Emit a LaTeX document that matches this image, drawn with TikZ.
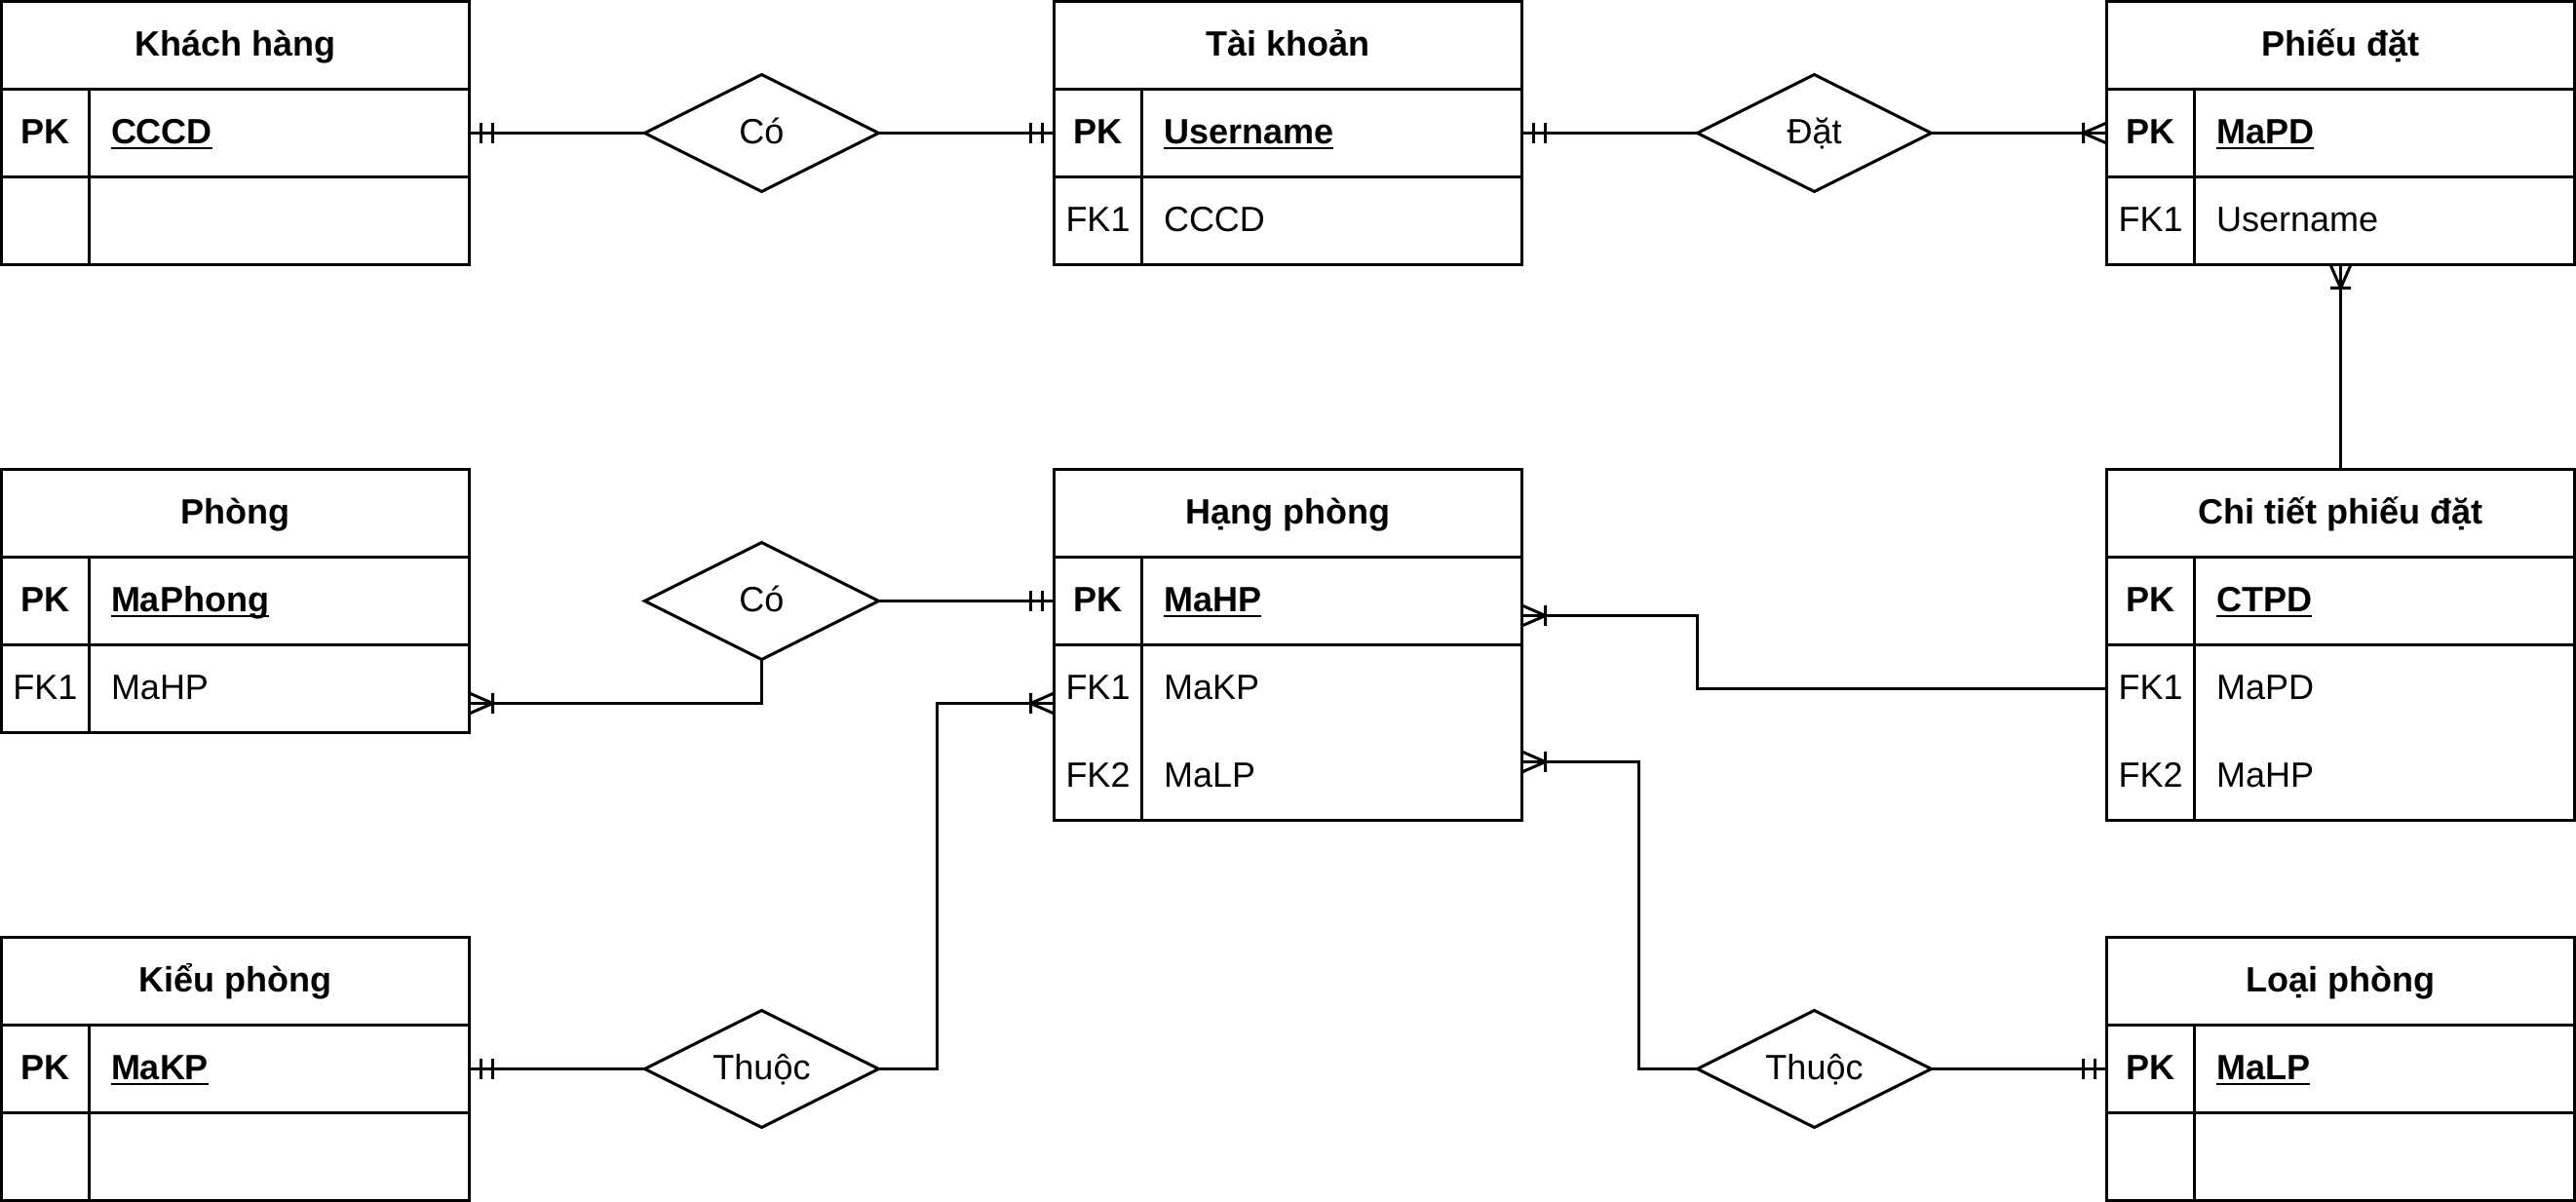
\documentclass[tikz,border=0pt]{standalone}
\usepackage{fontspec}
\setmainfont{Liberation Sans}
\usetikzlibrary{shapes.geometric}
\newcommand\keyul[1]{\setbox0\hbox{#1}\rlap{\rule[-1.9pt]{\wd0}{0.7pt}}\box0}
\begin{document}
\begin{tikzpicture}[x=1pt,y=-1pt,
  every node/.style={font=\fontsize{12}{14.4}\selectfont, inner sep=0pt, outer sep=0pt},
  ln/.style={line width=1pt, line cap=rect},
  conn/.style={line width=1pt},
  ttl/.style={draw, line width=1pt, minimum width=160pt, minimum height=30pt, anchor=north west,
              text height=7.4pt, text depth=0pt, font=\fontsize{12}{14.4}\selectfont\bfseries},
  row/.style={draw, line width=1pt, minimum width=160pt, minimum height=30pt, anchor=north west},
  rowtwo/.style={draw, line width=1pt, minimum width=160pt, minimum height=60pt, anchor=north west},
  keyt/.style={text height=7.4pt, text depth=0pt, anchor=center},
  keyb/.style={keyt, font=\fontsize{12}{14.4}\selectfont\bfseries},
  fldt/.style={text height=7.4pt, text depth=0pt, anchor=west},
  fldb/.style={fldt, font=\fontsize{12}{14.4}\selectfont\bfseries},
  rel/.style={draw, diamond, shape aspect=2, line width=1pt, minimum width=80pt, minimum height=40pt,
              text height=7.4pt, text depth=0pt},
  mandone/.pic={\draw[line width=1pt] (4,-3.5)--(4,3.5) (8,-3.5)--(8,3.5);},
  onemany/.pic={\draw[line width=1pt] (0,-3.5)--(8,0)--(0,3.5) (8,-3.5)--(8,3.5);}
]
\path[use as bounding box] (0,0) rectangle (881,411);

% ---------- Khach hang ----------
\node[ttl] (kh) at (0.5,0.5) {Khách hàng};
\node[row] (khpk) at (0.5,30.5) {};
\node[row] (khfk) at (0.5,60.5) {};
\draw[ln] ([xshift=30pt]khpk.north west) -- ([xshift=30pt]khfk.south west);
\node[keyb] (khpkl) at ([xshift=15pt]khpk.west) {PK};
\node[fldb] (khpkt) at ([xshift=37.5pt]khpk.west) {\keyul{CCCD}};

% ---------- Tai khoan ----------
\node[ttl] (tk) at (360.5,0.5) {Tài khoản};
\node[row] (tkpk) at (360.5,30.5) {};
\node[row] (tkfk) at (360.5,60.5) {};
\draw[ln] ([xshift=30pt]tkpk.north west) -- ([xshift=30pt]tkfk.south west);
\node[keyb] (tkpkl) at ([xshift=15pt]tkpk.west) {PK};
\node[fldb] (tkpkt) at ([xshift=37.5pt]tkpk.west) {\keyul{Username}};
\node[keyt] (tkfkl) at ([xshift=15pt]tkfk.west) {FK1};
\node[fldt] (tkfkt) at ([xshift=37.5pt]tkfk.west) {CCCD};

% ---------- Phieu dat ----------
\node[ttl] (pd) at (720.5,0.5) {Phiếu đặt};
\node[row] (pdpk) at (720.5,30.5) {};
\node[row] (pdfk) at (720.5,60.5) {};
\draw[ln] ([xshift=30pt]pdpk.north west) -- ([xshift=30pt]pdfk.south west);
\node[keyb] (pdpkl) at ([xshift=15pt]pdpk.west) {PK};
\node[fldb] (pdpkt) at ([xshift=37.5pt]pdpk.west) {\keyul{MaPD}};
\node[keyt] (pdfkl) at ([xshift=15pt]pdfk.west) {FK1};
\node[fldt] (pdfkt) at ([xshift=37.5pt]pdfk.west) {Username};

% ---------- Phong ----------
\node[ttl] (ph) at (0.5,160.5) {Phòng};
\node[row] (phpk) at (0.5,190.5) {};
\node[row] (phfk) at (0.5,220.5) {};
\draw[ln] ([xshift=30pt]phpk.north west) -- ([xshift=30pt]phfk.south west);
\node[keyb] (phpkl) at ([xshift=15pt]phpk.west) {PK};
\node[fldb] (phpkt) at ([xshift=37.5pt]phpk.west) {\keyul{MaPhong}};
\node[keyt] (phfkl) at ([xshift=15pt]phfk.west) {FK1};
\node[fldt] (phfkt) at ([xshift=37.5pt]phfk.west) {MaHP};

% ---------- Hang phong ----------
\node[ttl] (hp) at (360.5,160.5) {Hạng phòng};
\node[row] (hppk) at (360.5,190.5) {};
\node[rowtwo] (hpfk) at (360.5,220.5) {};
\draw[ln] ([xshift=30pt]hppk.north west) -- ([xshift=30pt]hpfk.south west);
\node[keyb] (hppkl) at ([xshift=15pt]hppk.west) {PK};
\node[fldb] (hppkt) at ([xshift=37.5pt]hppk.west) {\keyul{MaHP}};
\node[keyt] (hpf1l) at ([xshift=15pt,yshift=15pt]hpfk.west) {FK1};
\node[fldt] (hpf1t) at ([xshift=37.5pt,yshift=15pt]hpfk.west) {MaKP};
\node[keyt] (hpf2l) at ([xshift=15pt,yshift=-15pt]hpfk.west) {FK2};
\node[fldt] (hpf2t) at ([xshift=37.5pt,yshift=-15pt]hpfk.west) {MaLP};

% ---------- Chi tiet phieu dat ----------
\node[ttl] (ct) at (720.5,160.5) {Chi tiết phiếu đặt};
\node[row] (ctpk) at (720.5,190.5) {};
\node[rowtwo] (ctfk) at (720.5,220.5) {};
\draw[ln] ([xshift=30pt]ctpk.north west) -- ([xshift=30pt]ctfk.south west);
\node[keyb] (ctpkl) at ([xshift=15pt]ctpk.west) {PK};
\node[fldb] (ctpkt) at ([xshift=37.5pt]ctpk.west) {\keyul{CTPD}};
\node[keyt] (ctf1l) at ([xshift=15pt,yshift=15pt]ctfk.west) {FK1};
\node[fldt] (ctf1t) at ([xshift=37.5pt,yshift=15pt]ctfk.west) {MaPD};
\node[keyt] (ctf2l) at ([xshift=15pt,yshift=-15pt]ctfk.west) {FK2};
\node[fldt] (ctf2t) at ([xshift=37.5pt,yshift=-15pt]ctfk.west) {MaHP};

% ---------- Kieu phong ----------
\node[ttl] (kp) at (0.5,320.5) {Kiểu phòng};
\node[row] (kppk) at (0.5,350.5) {};
\node[row] (kpfk) at (0.5,380.5) {};
\draw[ln] ([xshift=30pt]kppk.north west) -- ([xshift=30pt]kpfk.south west);
\node[keyb] (kppkl) at ([xshift=15pt]kppk.west) {PK};
\node[fldb] (kppkt) at ([xshift=37.5pt]kppk.west) {\keyul{MaKP}};

% ---------- Loai phong ----------
\node[ttl] (lp) at (720.5,320.5) {Loại phòng};
\node[row] (lppk) at (720.5,350.5) {};
\node[row] (lpfk) at (720.5,380.5) {};
\draw[ln] ([xshift=30pt]lppk.north west) -- ([xshift=30pt]lpfk.south west);
\node[keyb] (lppkl) at ([xshift=15pt]lppk.west) {PK};
\node[fldb] (lppkt) at ([xshift=37.5pt]lppk.west) {\keyul{MaLP}};

% ---------- Relationships ----------
\node[rel] (co1) at (260.5,45.5) {Có};
\node[rel] (dat) at (620.5,45.5) {Đặt};
\node[rel] (co2) at (260.5,205.5) {Có};
\node[rel] (th1) at (260.5,365.5) {Thuộc};
\node[rel] (th2) at (620.5,365.5) {Thuộc};

% ---------- Elbow coordinates ----------
\coordinate (e1) at (580.5,210.5);
\coordinate (e2) at (260.5,240.5);
\coordinate (e3) at (320.5,240.5);
\coordinate (e4) at (560.5,260.5);

% ---------- Connectors ----------
\draw[conn] (khpk.east) -- (co1.west);
\draw[conn] (co1.east) -- (tkpk.west);
\draw[conn] (tkpk.east) -- (dat.west);
\draw[conn] (dat.east) -- (pdpk.west);
\draw[conn] (pdfk.south) -- (ct.north);
\draw[conn] (ctfk.west |- ctf1l.center) -| (e1) -- (hppk.east |- e1);
\draw[conn] (co2.east) -- (hppk.west);
\draw[conn] (co2.south) -- (e2) -- (phfk.east |- e2);
\draw[conn] (kppk.east) -- (th1.west);
\draw[conn] (th1.east) -| (e3) -- (hpfk.west |- e3);
\draw[conn] (th2.east) -- (lppk.west);
\draw[conn] (th2.west) -| (e4) -- (hpfk.east |- e4);

% ---------- Markers ----------
\pic at (khpk.east) {mandone};
\pic[xscale=-1] at (tkpk.west) {mandone};
\pic at (tkpk.east) {mandone};
\pic[xscale=-1] at (pdpk.west) {onemany};
\pic[rotate=-90] at (pdfk.south) {onemany};
\pic at (hppk.east |- e1) {onemany};
\pic[xscale=-1] at (hppk.west) {mandone};
\pic at (phfk.east |- e2) {onemany};
\pic[xscale=-1] at (hpfk.west |- e3) {onemany};
\pic at (hpfk.east |- e4) {onemany};
\pic at (kppk.east) {mandone};
\pic[xscale=-1] at (lppk.west) {mandone};
\end{tikzpicture}
\end{document}
